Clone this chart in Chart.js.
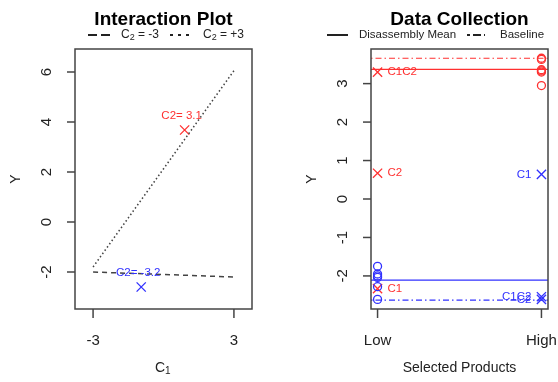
<!DOCTYPE html>
<html>
<head>
<meta charset="utf-8">
<script src="https://cdn.jsdelivr.net/npm/chart.js@4/dist/chart.umd.min.js"></script>
<style>
  html, body { margin: 0; padding: 0; background: #fff; }
  #wrap { position: relative; width: 558px; height: 382px; overflow: hidden; }
  canvas { position: absolute; top: 0; }
  #left { left: 0; }
  #right { left: 279px; }
</style>
</head>
<body>
<div id="wrap">
  <canvas id="left" width="279" height="382"></canvas>
  <canvas id="right" width="279" height="382"></canvas>
</div>
<script>
// --- DATA: interaction plot ---
const c1Levels = [-3, 3];
const yC2Low = [-2.0, -2.2];     // C2 = -3
const yC2High = [-1.8, 6.05];    // C2 = +3
const predX = [0.9, -0.95];
const predY = [3.68, -2.6];
const predLabels = ["C2= 3.1", "C2= -3.2"];
const leftYTicks = [-2, 0, 2, 4, 6];
const leftXTicks = [-3, 3];

// --- DATA: data collection ---
const productTicks = [1, 2];
const productLabels = ["Low", "High"];
const lowCircles = [-1.75, -1.95, -2.0, -2.04, -2.28, -2.61];
const highCircles = [3.66, 3.63, 3.36, 3.33, 3.30, 2.95];
const lowCrossY = [3.30, 0.67, -2.33];
const lowCrossLabels = ["C1C2", "C2", "C1"];
const highCrossY = [0.64, -2.54, -2.61];
const highCrossLabels = ["C1", "C1C2", "C2"];
const redMean = 3.37, redBase = 3.66;
const blueMean = -2.11, blueBase = -2.63;
const rightYTicks = [-2, -1, 0, 1, 2, 3];

const RED = "#ff3030";
const BLUE = "#3030ff";
const INK = "#222";
const BOX = "#444";
const FONT = "'Liberation Sans', Arial, sans-serif";

const dotted = [1.5, 2.5];
const dashed = [5, 4];
const dotdash = [1.5, 3, 6, 3];

// draw "C" + subscript + rest, starting at x
function subText(ctx, base, sub, rest, x, y, size) {
    ctx.font = size + "px " + FONT;
    ctx.fillText(base, x, y);
    let w = ctx.measureText(base).width;
    ctx.font = Math.round(size * 0.72) + "px " + FONT;
    ctx.fillText(sub, x + w, y + size * 0.25);
    w += ctx.measureText(sub).width;
    ctx.font = size + "px " + FONT;
    ctx.fillText(rest, x + w, y);
    return w + ctx.measureText(rest).width;
}

function legendLine(ctx, x1, x2, y, dash, width) {
    ctx.save();
    ctx.strokeStyle = INK;
    ctx.lineWidth = width;
    ctx.setLineDash(dash);
    ctx.beginPath();
    ctx.moveTo(x1, y);
    ctx.lineTo(x2, y);
    ctx.stroke();
    ctx.restore();
}

// R-style frame, ticks and titles
function framePlugin(cfg) {
    return {
        id: "rframe",
        afterDraw(chart) {
            const ctx = chart.ctx;
            const a = chart.chartArea;
            const xs = chart.scales.x, ys = chart.scales.y;
            ctx.save();
            ctx.strokeStyle = BOX;
            ctx.lineWidth = 1.5;
            ctx.strokeRect(a.left, a.top, a.right - a.left, a.bottom - a.top);

            ctx.fillStyle = INK;
            ctx.font = "15px " + FONT;
            cfg.yTicks.forEach(t => {
                const y = ys.getPixelForValue(t);
                ctx.beginPath();
                ctx.moveTo(a.left - 8, y);
                ctx.lineTo(a.left, y);
                ctx.stroke();
                ctx.save();
                ctx.translate(a.left - 28, y);
                ctx.rotate(-Math.PI / 2);
                ctx.textAlign = "center";
                ctx.textBaseline = "middle";
                ctx.fillText(String(t), 0, 0);
                ctx.restore();
            });
            cfg.xTicks.forEach((t, i) => {
                const x = xs.getPixelForValue(t);
                ctx.beginPath();
                ctx.moveTo(x, a.bottom);
                ctx.lineTo(x, a.bottom + 9);
                ctx.stroke();
                ctx.textAlign = "center";
                ctx.textBaseline = "middle";
                ctx.fillText(cfg.xLabels[i], x, a.bottom + 32);
            });

            // axis titles
            const cx = (a.left + a.right) / 2;
            const cy = (a.top + a.bottom) / 2;
            ctx.font = "14px " + FONT;
            ctx.textBaseline = "middle";
            if (cfg.xSub) {
                ctx.textAlign = "left";
                ctx.font = "14px " + FONT;
                const w = ctx.measureText(cfg.xTitle).width + 7;
                subText(ctx, cfg.xTitle, cfg.xSub, "", cx - w / 2, a.bottom + 59, 14);
            } else {
                ctx.textAlign = "center";
                ctx.fillText(cfg.xTitle, cx, a.bottom + 59);
            }
            ctx.save();
            ctx.translate(a.left - 59, cy);
            ctx.rotate(-Math.PI / 2);
            ctx.textAlign = "center";
            ctx.font = "14px " + FONT;
            ctx.fillText("Y", 0, 0);
            ctx.restore();

            // main title
            ctx.fillStyle = "#000";
            ctx.font = "bold 19px " + FONT;
            ctx.textAlign = "center";
            ctx.textBaseline = "alphabetic";
            ctx.fillText(cfg.title, cx, 25);

            // legend
            ctx.textBaseline = "middle";
            ctx.textAlign = "left";
            ctx.fillStyle = INK;
            cfg.legend(ctx);
            ctx.restore();
        }
    };
}

function pointLabels(items) {
    return {
        id: "plabels",
        afterDatasetsDraw(chart) {
            const ctx = chart.ctx;
            ctx.save();
            ctx.font = "11.5px " + FONT;
            ctx.textBaseline = "middle";
            items.forEach(it => {
                const x = chart.scales.x.getPixelForValue(it.x);
                const y = chart.scales.y.getPixelForValue(it.y);
                ctx.fillStyle = it.color;
                if (it.pos === "above") {
                    ctx.textAlign = "center";
                    ctx.fillText(it.text, x - 3, y - 14);
                } else if (it.pos === "right") {
                    ctx.textAlign = "left";
                    ctx.fillText(it.text, x + 10, y);
                } else {
                    ctx.textAlign = "right";
                    ctx.fillText(it.text, x - 10, y);
                }
            });
            ctx.restore();
        }
    };
}

function baseOptions(xmin, xmax, ymin, ymax, padLeft, padRight) {
    return {
        responsive: false,
        animation: false,
        devicePixelRatio: 1,
        layout: { padding: { left: padLeft, top: 49, right: padRight, bottom: 73 } },
        plugins: { legend: { display: false }, tooltip: { enabled: false }, title: { display: false } },
        scales: {
            x: { type: "linear", min: xmin, max: xmax, display: false },
            y: { type: "linear", min: ymin, max: ymax, display: false }
        }
    };
}

function xy(xsArr, ysArr) {
    return xsArr.map((x, i) => ({ x: x, y: ysArr[i] }));
}

// --- LEFT: interaction plot ---
const leftLabels = predLabels.map((t, i) => ({
    x: predX[i], y: predY[i], text: t, color: i === 0 ? RED : BLUE, pos: "above"
}));

new Chart(document.getElementById("left"), {
    type: "scatter",
    data: {
        datasets: [
            { data: xy(c1Levels, yC2High), showLine: true, borderColor: "#444", borderWidth: 1.5,
              borderDash: dotted, pointRadius: 0 },
            { data: xy(c1Levels, yC2Low), showLine: true, borderColor: "#444", borderWidth: 1.5,
              borderDash: dashed, pointRadius: 0 },
            { data: [{ x: predX[0], y: predY[0] }], pointStyle: "crossRot", pointRadius: 6.5,
              borderColor: RED, borderWidth: 1.3 },
            { data: [{ x: predX[1], y: predY[1] }], pointStyle: "crossRot", pointRadius: 6.5,
              borderColor: BLUE, borderWidth: 1.3 }
        ]
    },
    options: baseOptions(-3.77, 3.77, -3.48, 6.92, 75, 27),
    plugins: [
        pointLabels(leftLabels),
        framePlugin({
            title: "Interaction Plot",
            yTicks: leftYTicks,
            xTicks: leftXTicks,
            xLabels: leftXTicks.map(String),
            xTitle: "C", xSub: "1",
            legend(ctx) {
                legendLine(ctx, 88, 110, 35, [9, 4], 2);
                subText(ctx, "C", "2", " = -3", 121, 35, 12);
                legendLine(ctx, 170, 190, 35, [3, 5], 2);
                subText(ctx, "C", "2", " = +3", 203, 35, 12);
            }
        })
    ]
});

// --- RIGHT: data collection ---
const rxMin = 0.96, rxMax = 2.04;
const rightLabels = [];
lowCrossY.forEach((y, i) => rightLabels.push({ x: 1, y: y, text: lowCrossLabels[i], color: RED, pos: "right" }));
highCrossY.forEach((y, i) => rightLabels.push({ x: 2, y: y, text: highCrossLabels[i], color: BLUE, pos: "left" }));

function hline(y, color, dash) {
    return { data: [{ x: rxMin, y: y }, { x: rxMax, y: y }], showLine: true, borderColor: color,
             borderWidth: 1.2, borderDash: dash, pointRadius: 0 };
}

new Chart(document.getElementById("right"), {
    type: "scatter",
    data: {
        datasets: [
            hline(redBase, RED, dotdash),
            hline(redMean, RED, []),
            hline(blueMean, BLUE, []),
            hline(blueBase, BLUE, dotdash),
            { data: highCircles.map(y => ({ x: 2, y: y })), pointStyle: "circle", pointRadius: 4,
              borderColor: RED, backgroundColor: "rgba(0,0,0,0)", borderWidth: 1.3 },
            { data: lowCircles.map(y => ({ x: 1, y: y })), pointStyle: "circle", pointRadius: 4,
              borderColor: BLUE, backgroundColor: "rgba(0,0,0,0)", borderWidth: 1.3 },
            { data: lowCrossY.map(y => ({ x: 1, y: y })), pointStyle: "crossRot", pointRadius: 6.5,
              borderColor: RED, borderWidth: 1.3 },
            { data: highCrossY.map(y => ({ x: 2, y: y })), pointStyle: "crossRot", pointRadius: 6.5,
              borderColor: BLUE, borderWidth: 1.3 }
        ]
    },
    options: baseOptions(rxMin, rxMax, -2.86, 3.9, 92, 10),
    plugins: [
        pointLabels(rightLabels),
        framePlugin({
            title: "Data Collection",
            yTicks: rightYTicks,
            xTicks: productTicks,
            xLabels: productLabels,
            xTitle: "Selected Products",
            legend(ctx) {
                legendLine(ctx, 48, 69, 35, [], 2);
                ctx.font = "11.5px " + FONT;
                ctx.fillText("Disassembly Mean", 80, 35);
                legendLine(ctx, 188, 206, 35, [3, 3, 8, 3], 2);
                ctx.fillText("Baseline", 221, 35);
            }
        })
    ]
});
</script>
</body>
</html>
